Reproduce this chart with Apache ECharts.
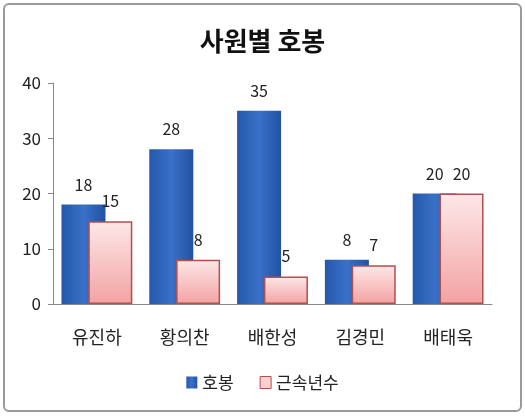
<!DOCTYPE html>
<html>
<head>
<meta charset="utf-8">
<script src="https://cdn.jsdelivr.net/npm/echarts@6/dist/echarts.min.js"></script>
<style>
    html, body { margin: 0; padding: 0; background: #fff; }
    .box {
        position: absolute; left: 3px; top: 3px; width: 519px; height: 409px;
        border: 2px solid #9a9a9a; border-radius: 6px; box-sizing: border-box;
    }
    .chart { width: 100%; height: 100%; }
</style>
</head>
<body>
<div class="box"><div class="chart"></div></div>
<script>
// 데이터
var categories = ['유진하', '황의찬', '배한성', '김경민', '배태욱'];
var hobong = [18, 28, 35, 8, 20];
var years = [15, 8, 5, 7, 20];
var yTicks = [0, 40, 10];  // min, max, interval

(function () {
    var font = '"Noto Sans CJK KR", "Noto Sans", sans-serif'
    var myChart = echarts.init(document.querySelector('.chart'))
    var option = {
        textStyle: { fontFamily: font },
        title: {
            text: '사원별 호봉',
            left: 'center',
            top: 18,
            textStyle: { fontSize: 26, fontWeight: 'bold', color: '#111', fontFamily: font }
        },
        legend: {
            bottom: 14,
            left: 'center',
            itemWidth: 11,
            itemHeight: 12,
            itemGap: 26,
            textStyle: { fontSize: 17, color: '#222', fontFamily: font },
            data: [
                { name: '호봉', icon: 'rect' },
                { name: '근속년수', icon: 'rect', itemStyle: { color: '#fbd0d0', borderColor: '#b05050', borderWidth: 1 } }
            ]
        },
        grid: { left: 48, right: 28, top: 78, bottom: 106 },
        xAxis: {
            type: 'category',
            data: categories,
            axisLine: { lineStyle: { color: '#888' } },
            axisTick: { show: false },
            axisLabel: { fontSize: 18, color: '#222', margin: 24, fontFamily: font }
        },
        yAxis: {
            type: 'value',
            min: yTicks[0],
            max: yTicks[1],
            interval: yTicks[2],
            axisLine: { show: true, lineStyle: { color: '#888' } },
            axisTick: { show: true, length: 5, lineStyle: { color: '#888' } },
            splitLine: { show: false },
            axisLabel: { fontSize: 17, color: '#222', margin: 12, fontFamily: font }
        },
        series: [{
            name: '호봉',
            type: 'bar',
            data: hobong,
            barWidth: 44,
            barGap: '-39%',
            itemStyle: {
                color: new echarts.graphic.LinearGradient(0, 0, 1, 0, [
                    { offset: 0, color: '#2558ac' },
                    { offset: 0.5, color: '#3a70c8' },
                    { offset: 1, color: '#2252a2' }
                ])
            },
            label: { show: true, position: 'top', distance: 12, fontSize: 16, color: '#222', fontFamily: font }
        }, {
            name: '근속년수',
            type: 'bar',
            data: years,
            barWidth: 44,
            z: 3,
            itemStyle: {
                borderColor: '#b05050',
                borderWidth: 1.5,
                color: new echarts.graphic.LinearGradient(0, 0, 0, 1, [
                    { offset: 0, color: '#fde8e8' },
                    { offset: 1, color: '#f3a2a2' }
                ])
            },
            label: { show: true, position: 'top', distance: 12, fontSize: 16, color: '#222', fontFamily: font }
        }]
    }
    myChart.setOption(option)
})()
</script>
</body>
</html>
